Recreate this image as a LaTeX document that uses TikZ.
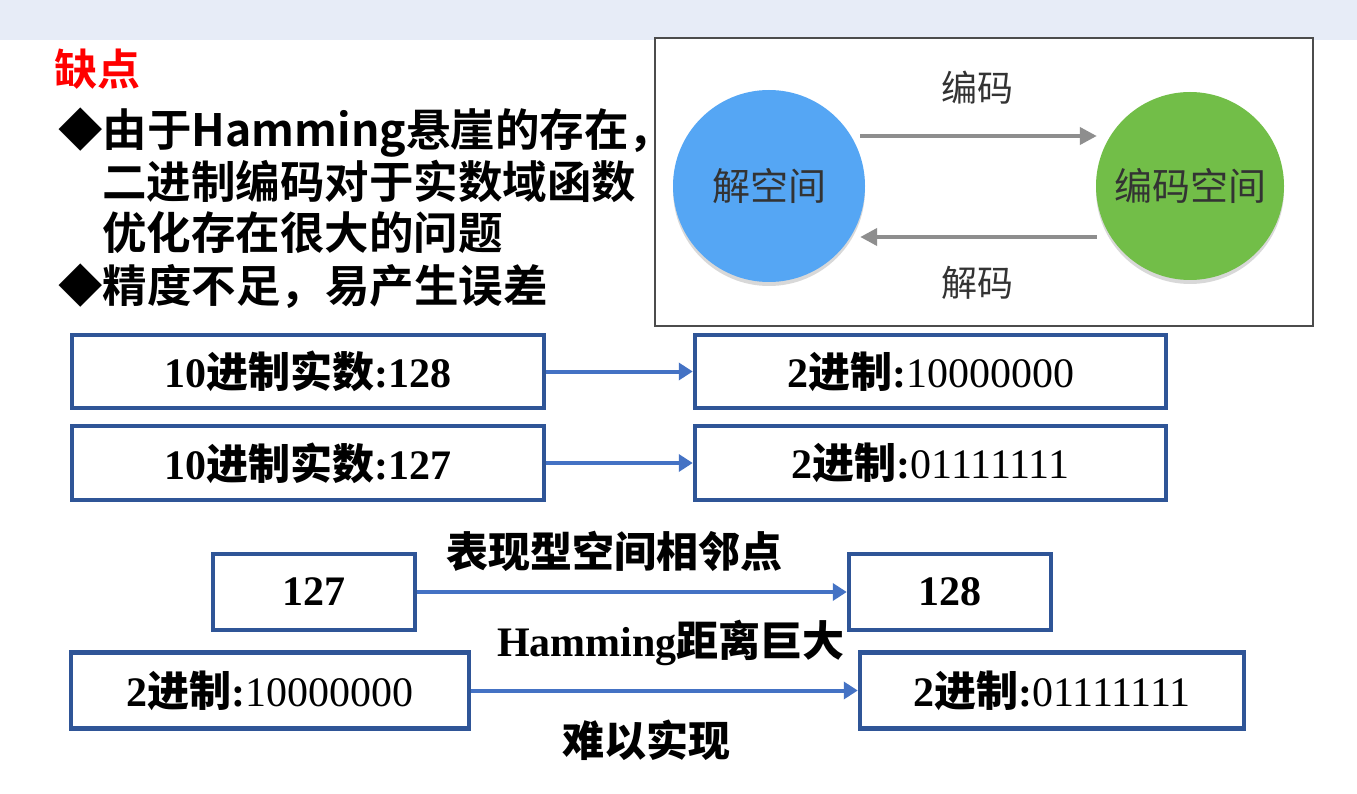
\documentclass[tikz,border=0pt]{standalone}
\usepackage{fontspec}
\setmainfont{Liberation Serif}
\newfontfamily\cjk{Noto Sans CJK SC}
\newfontfamily\cjkb{Noto Sans CJK SC Bold}
\usetikzlibrary{arrows.meta,shadows}
\definecolor{bandc}{HTML}{E7ECF7}
\definecolor{boxblue}{HTML}{2F5597}
\definecolor{arrblue}{HTML}{4472C4}
\definecolor{solblue}{HTML}{55A6F4}
\definecolor{encgreen}{HTML}{72BE48}
\definecolor{arrgray}{HTML}{8E8E8E}
\definecolor{txtgray}{HTML}{333333}
\newcommand\cb[1]{{\cjkb #1}}
\begin{document}
\begin{tikzpicture}[x=1pt,y=-1pt,
  bx/.style={draw=boxblue,line width=4.5pt,fill=white,inner sep=0pt,
    font=\fontsize{42}{50}\selectfont\bfseries},
  barrow/.style={draw=arrblue,line width=4pt,-{Triangle[length=14pt,width=17pt]}},
  garrow/.style={draw=arrgray,line width=4pt,-{Triangle[length=17pt,width=17pt]}},
  bul/.style={anchor=base west,inner sep=0pt,font=\fontsize{44.5}{52}\selectfont\cjkb},
  lbl/.style={inner sep=0pt,font=\fontsize{42}{50}\selectfont\bfseries},
  circ/.style={circle,inner sep=0pt,text=txtgray,font=\fontsize{38}{44}\selectfont\cjk,
    drop shadow={shadow xshift=0pt,shadow yshift=-4pt,opacity=.3}},
  ctl/.style={inner sep=0pt,text=txtgray,font=\fontsize{36}{42}\selectfont\cjk}]
\useasboundingbox (0,0) rectangle (1357,794);
\fill[white] (0,0) rectangle (1357,794);
\fill[bandc] (0,0) rectangle (1357,40);

% left text
\node[bul,text=red,font=\fontsize{43}{50}\selectfont\cjkb] (que) at (54,86) {缺点};
\node[bul] (l1) at (58,147) {◆由于Hamming悬崖的存在，};
\node[bul] (l2) at (102,199) {二进制编码对于实数域函数};
\node[bul] (l3) at (102,250) {优化存在很大的问题};
\node[bul] (l4) at (58,302) {◆精度不足，易产生误差};

% right panel
\draw[draw=black!70,line width=1.5pt,fill=white] (655,38) rectangle (1313,326);
\node[circ,fill=solblue,minimum size=192pt] (sol) at (769,186) {解空间};
\node[circ,fill=encgreen,minimum size=188pt] (enc) at (1190,186) {编码空间};
\draw[garrow] ([shift={(-5,-50)}]sol.east) -- ([shift={(1,-50)}]enc.west);
\draw[garrow] ([shift={(1,51)}]enc.west) -- ([shift={(-5,51)}]sol.east);
\node[ctl] (bm) at (977,88) {编码};
\node[ctl] (jm) at (977,283) {解码};

% boxes row 1-2
\node[bx,minimum width=472pt,minimum height=73pt] (a1) at (308,371.5) {10\cb{进制实数}:128};
\node[bx,minimum width=471pt,minimum height=73pt] (b1) at (930.5,371.5) {2\cb{进制}:\mdseries 10000000};
\node[bx,minimum width=472pt,minimum height=74pt] (a2) at (308,463) {10\cb{进制实数}:127};
\node[bx,minimum width=471pt,minimum height=74pt] (b2) at (930.5,463) {2\cb{进制}:\mdseries 01111111};
\draw[barrow] (a1) -- (b1);
\draw[barrow] (a2) -- (b2);

% bottom
\node[bx,minimum width=202pt,minimum height=76pt] (c1) at (314,592) {127};
\node[bx,minimum width=202pt,minimum height=76pt] (c2) at (950,592) {128};
\node[bx,minimum width=398pt,minimum height=76pt] (d1) at (270,690.5) {2\cb{进制}:\mdseries 10000000};
\node[bx,minimum width=384pt,minimum height=76pt] (d2) at (1052,690.5) {2\cb{进制}:\mdseries 01111111};
\draw[barrow] (c1) -- (c2);
\draw[barrow] (d1) -- (d2);
\node[lbl] (t1) at (614,551) {\cb{表现型空间相邻点}};
\node[lbl] (t2) at (671,643) {Hamming\cb{距离巨大}};
\node[lbl] (t3) at (646,740) {\cb{难以实现}};
\end{tikzpicture}
\end{document}
